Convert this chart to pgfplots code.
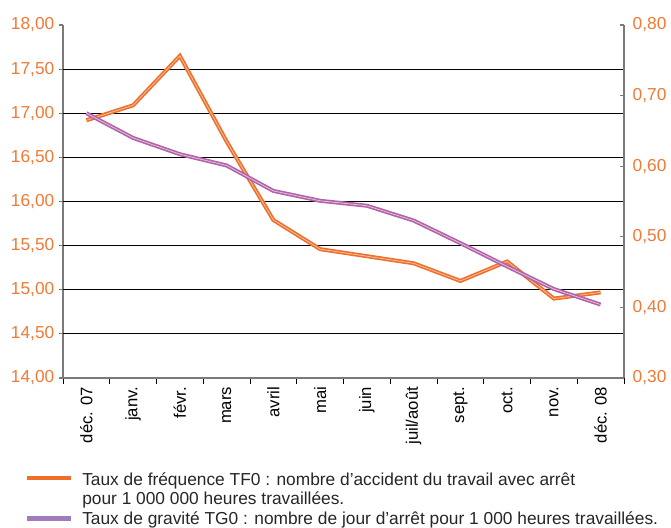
\documentclass[border=0pt]{standalone}
\usepackage{fontspec}
\setmainfont{Liberation Sans}
\usepackage{pgfplots}
\pgfplotsset{compat=1.18}
\definecolor{tfo}{HTML}{EE6E2A}
\definecolor{tgo}{HTML}{B262A8}
\definecolor{tgleg}{HTML}{A07CBC}
\definecolor{lab}{HTML}{EF7A36}
\definecolor{axgray}{HTML}{7A7A7A}
\begin{document}
\begin{tikzpicture}
\useasboundingbox (-47.25pt,-112.5pt) rectangle (456pt,283.5pt);
\begin{axis}[
  at={(0,0)}, anchor=south west,
  scale only axis, width=420.75pt, height=264.75pt,
  xmin=-0.5, xmax=11.5, ymin=14, ymax=18,
  axis x line*=bottom, axis y line*=left,
  axis line style={axgray, line width=1.1pt, -},
  tick align=outside,
  xtick={0,...,11},
  xticklabels={déc. 07, janv., févr., mars, avril, mai, juin, juil/août, sept., oct., nov., déc. 08},
  major x tick style={draw=none},
  minor xtick={-0.5,0.5,...,11.5},
  minor x tick style={black, line width=0.7pt},
  minor tick length=4.5pt,
  x tick label style={rotate=90, anchor=east, font=\fontsize{12.5}{14}\selectfont, inner sep=3.5pt},
  ytick={14,14.5,...,18},
  y tick style={axgray, line width=0.9pt},
  major tick length=3pt,
  yticklabel style={color=lab, font=\fontsize{13}{15}\selectfont,
    /pgf/number format/fixed, /pgf/number format/fixed zerofill,
    /pgf/number format/precision=2, /pgf/number format/use comma,
    /pgf/number format/assume math mode=true},
  extra y ticks={14.5,15,...,17.5},
  extra y tick labels={},
  extra y tick style={grid=major},
  major grid style={black, line width=0.6pt},
]
\addplot[tfo, line width=1.2pt, double=white!55!tfo, double distance=0.6pt] coordinates {
(0,16.92) (1,17.09) (2,17.65) (3,16.68) (4,15.79) (5,15.46) (6,15.38) (7,15.30) (8,15.10) (9,15.32) (10,14.90) (11,14.97)};
\end{axis}
\begin{axis}[
  at={(0,0)}, anchor=south west,
  scale only axis, width=420.75pt, height=264.75pt,
  xmin=-0.5, xmax=11.5, ymin=0.3, ymax=0.8,
  axis x line=none, axis y line*=right,
  axis line style={axgray, line width=1.1pt, -},
  tick align=inside,
  ytick={0.3,0.4,...,0.8},
  y tick style={axgray, line width=0.9pt},
  major tick length=3pt,
  yticklabel style={color=lab, font=\fontsize{13}{15}\selectfont, xshift=3pt,
    /pgf/number format/fixed, /pgf/number format/fixed zerofill,
    /pgf/number format/precision=2, /pgf/number format/use comma,
    /pgf/number format/assume math mode=true},
]
\addplot[tgo, line width=1.2pt, double=white!60!tgo, double distance=0.6pt] coordinates {
(0,0.675) (1,0.640) (2,0.617) (3,0.601) (4,0.565) (5,0.551) (6,0.544) (7,0.523) (8,0.491) (9,0.458) (10,0.426) (11,0.404)};
\end{axis}
\draw[tfo, line width=3.5pt] (-27pt,-75pt) -- (6pt,-75pt);
\draw[tgleg, line width=3.5pt] (-27pt,-105.5pt) -- (6pt,-105.5pt);
\node[anchor=base west, inner sep=0pt, text=black!85, font=\fontsize{13}{15}\selectfont] at (14.25pt,-81pt) {Taux de fréquence TF0 : nombre d’accident du travail avec arrêt};
\node[anchor=base west, inner sep=0pt, text=black!85, font=\fontsize{13}{15}\selectfont] at (14.25pt,-95.25pt) {pour 1 000 000 heures travaillées.};
\node[anchor=base west, inner sep=0pt, text=black!85, font=\fontsize{13}{15}\selectfont] at (14.25pt,-109.5pt) {Taux de gravité TG0 : nombre de jour d’arrêt pour 1 000 heures travaillées.};
\end{tikzpicture}
\end{document}
